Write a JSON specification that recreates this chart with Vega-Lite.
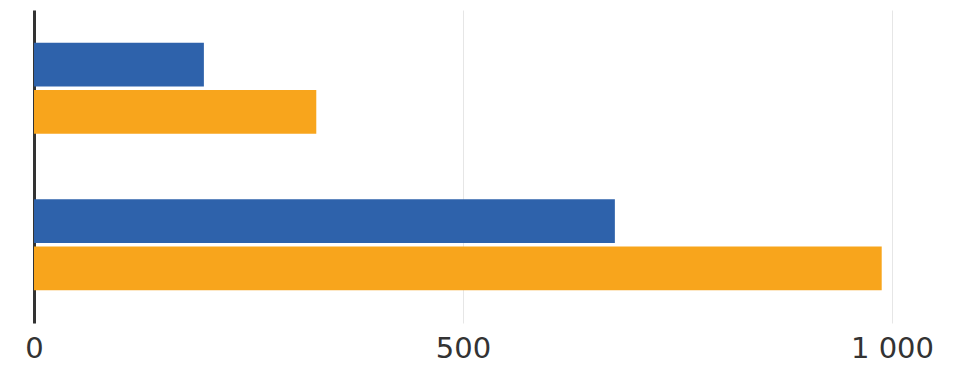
{
  "$schema": "https://vega.github.io/schema/vega-lite/v6.json",
  "autosize": {"type": "none"},
  "padding": {"left": 34, "top": 10, "right": 69, "bottom": 42},
  "width": 858,
  "height": 313,
  "background": "white",
  "config": {"view": {"stroke": null}, "font": "DejaVu Sans"},
  "data": {
    "values": [
      {"group": "A", "series": "S1", "value": 198},
      {"group": "A", "series": "S2", "value": 329},
      {"group": "B", "series": "S1", "value": 677},
      {"group": "B", "series": "S2", "value": 988}
    ]
  },
  "mark": {"type": "bar"},
  "encoding": {
    "y": {
      "field": "group",
      "type": "nominal",
      "scale": {"paddingInner": 0.42, "paddingOuter": 0.21},
      "axis": {"title": null, "labels": false, "ticks": false, "domain": true, "domainColor": "#333333", "domainWidth": 3, "grid": false}
    },
    "yOffset": {
      "field": "series",
      "type": "nominal",
      "scale": {"paddingInner": 0.07, "paddingOuter": 0}
    },
    "x": {
      "field": "value",
      "type": "quantitative",
      "scale": {"domain": [0, 1000], "nice": false},
      "axis": {
        "title": null,
        "values": [0, 500, 1000],
        "domain": false,
        "ticks": false,
        "grid": true,
        "gridColor": "#e6e6e6",
        "gridWidth": 1,
        "labelFontSize": 29,
        "labelColor": "#333333",
        "labelPadding": 11,
        "labelFlush": false,
        "labelExpr": "replace(format(datum.value, ','), ',', ' ')"
      }
    },
    "color": {
      "field": "series",
      "type": "nominal",
      "scale": {"domain": ["S1", "S2"], "range": ["#2e62ab", "#f8a51c"]},
      "legend": null
    }
  }
}
